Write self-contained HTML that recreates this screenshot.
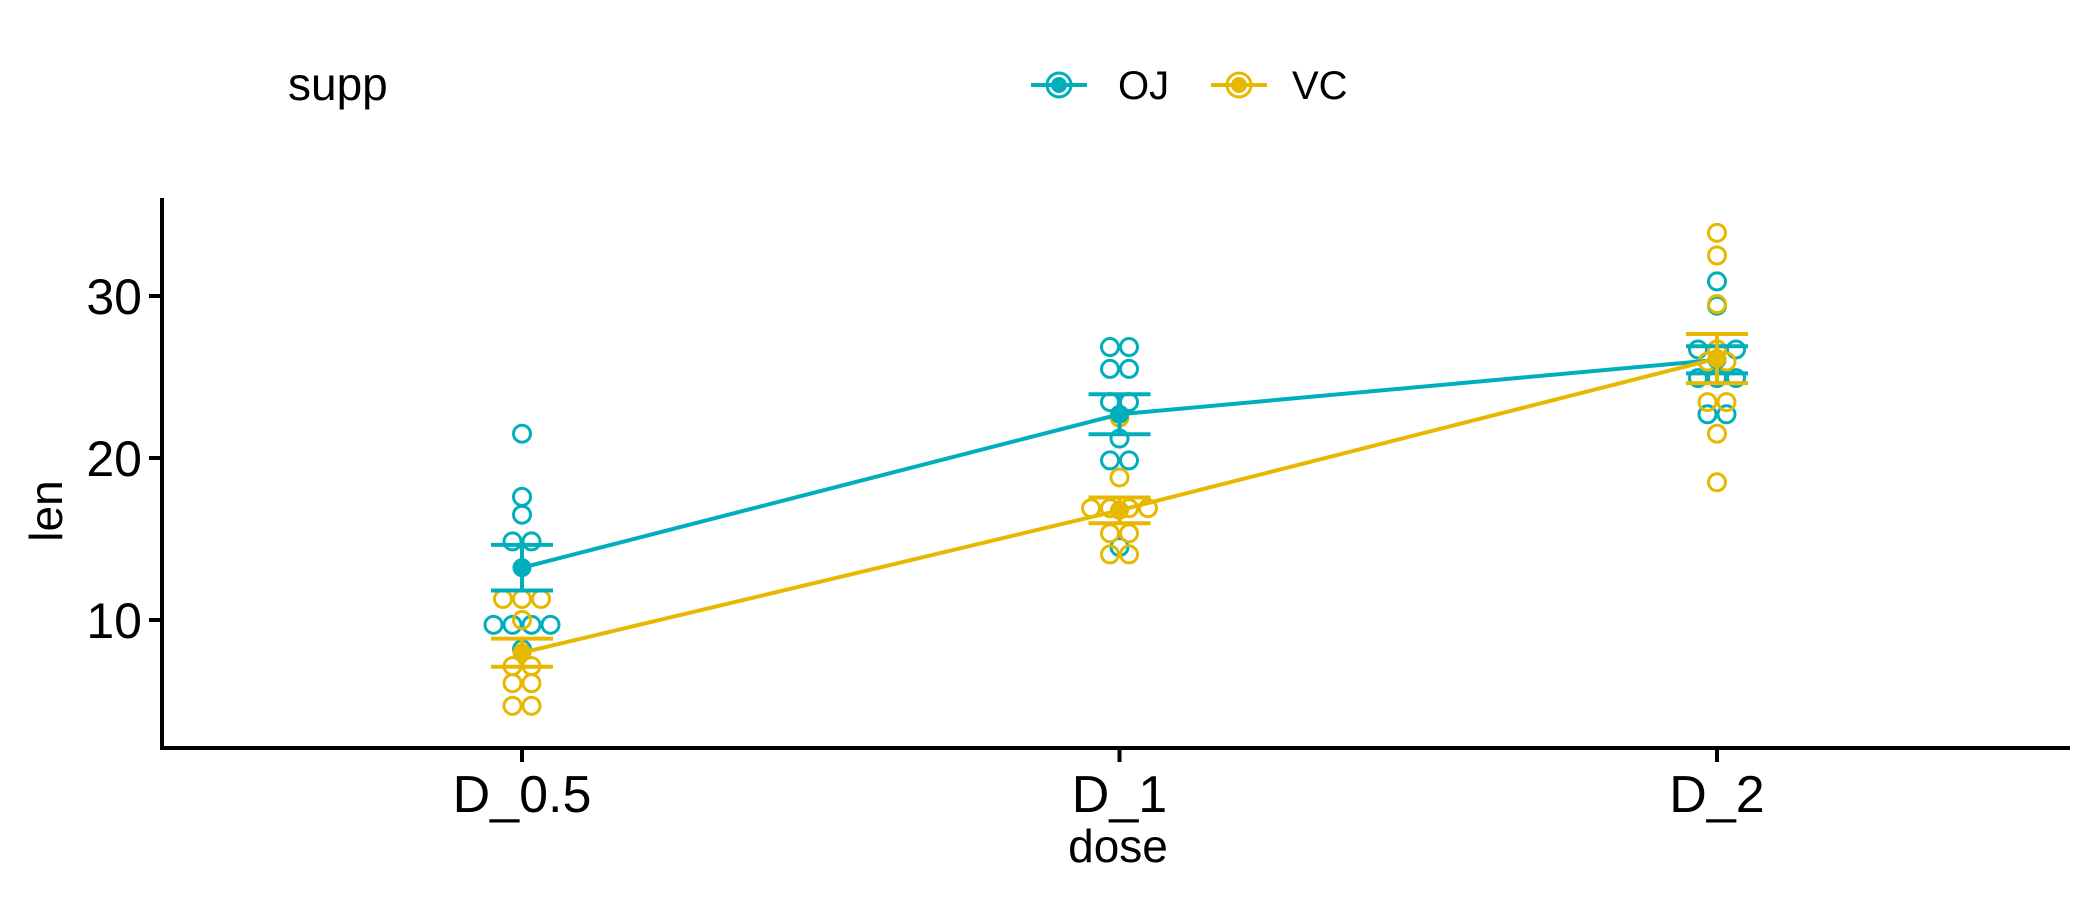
<!DOCTYPE html>
<html><head><meta charset="utf-8"><style>
body{margin:0;background:#fff}
svg{display:block;font-family:"Liberation Sans",Arial,sans-serif}
</style></head><body>
<svg id="chart" width="2100" height="900" viewBox="0 0 2100 900">
<g id="legend">
<text x="288" y="100" font-size="46">supp</text>
<g>
<line x1="1031" y1="85" x2="1087" y2="85" stroke="#00AFBB" stroke-width="4"/>
<circle cx="1059" cy="85" r="12" fill="none" stroke="#00AFBB" stroke-width="3"/>
<circle cx="1059" cy="85" r="8" fill="#00AFBB"/>
<text x="1118" y="99" font-size="40">OJ</text></g>
<g>
<line x1="1211" y1="85" x2="1267" y2="85" stroke="#E7B800" stroke-width="4"/>
<circle cx="1239" cy="85" r="12" fill="none" stroke="#E7B800" stroke-width="3"/>
<circle cx="1239" cy="85" r="8" fill="#E7B800"/>
<text x="1292" y="99" font-size="40">VC</text></g>
</g>
<g id="plot"></g>
<line x1="162" y1="198" x2="162" y2="750" stroke="#000" stroke-width="4"/>
<line x1="160" y1="748" x2="2070" y2="748" stroke="#000" stroke-width="4"/>
<text transform="translate(62,511) rotate(-90)" text-anchor="middle" font-size="46">len</text>
<text x="1118" y="862" text-anchor="middle" font-size="46">dose</text>
</svg>
<script>
const categories = ["D_0.5","D_1","D_2"];
const yTicks = [10,20,30];
const ojValues = [[15.2,21.5,17.6,9.7,14.5,10,8.2,9.4,16.5,9.7],[19.7,23.3,23.6,26.4,20,25.2,25.8,21.2,14.5,27.3],[25.5,26.4,22.4,24.5,24.8,30.9,26.4,27.3,29.4,23]];
const vcValues = [[4.2,11.5,7.3,5.8,6.4,10,11.2,11.2,5.2,7],[16.5,16.5,15.2,17.3,22.5,17.3,13.6,14.5,18.8,15.5],[23.6,18.5,33.9,25.5,26.4,32.5,26.7,21.5,23.3,29.5]];
const NS="http://www.w3.org/2000/svg";
const svg=document.getElementById('chart'), plot=document.getElementById('plot');
const xScale=i=>522+i*597.5;
const yScale=v=>782-v*16.2;
function mk(t,a,p){const e=document.createElementNS(NS,t);for(const k in a)e.setAttribute(k,a[k]);(p||plot).appendChild(e);return e;}
yTicks.forEach(t=>{
 const l=mk('line',{x1:149,x2:162,y1:yScale(t),y2:yScale(t),stroke:'#000','stroke-width':4},svg);
 
 
 const tx=mk('text',{x:142,y:yScale(t)+18,'text-anchor':'end','font-size':50},svg);tx.textContent=t;
 
 
});
categories.forEach((c,i)=>{
 const l=mk('line',{x1:xScale(i),x2:xScale(i),y1:748,y2:762,stroke:'#000','stroke-width':4},svg);
 
 
 const tx=mk('text',{x:xScale(i),y:812,'text-anchor':'middle','font-size':52},svg);tx.textContent=c;
 
 
});
const mean=a=>a.reduce((s,v)=>s+v,0)/a.length;
const se=a=>{const m=mean(a);return Math.sqrt(a.reduce((s,v)=>s+(v-m)*(v-m),0)/(a.length-1)/a.length);};
function dots(vals,col,name){
 vals.forEach((arr,i)=>{
  const s=arr.slice().sort((a,b)=>a-b);const bins=[];
  s.forEach(v=>{const b=bins[bins.length-1];if(b&&v-b[0]<1.1)b.push(v);else bins.push([v]);});
  bins.forEach(b=>{const c=mean(b);b.forEach((v,k)=>{
   const d=mk('circle',{cx:xScale(i)+(k-(b.length-1)/2)*19,cy:yScale(c),r:8.5,fill:'none',stroke:col,'stroke-width':3});
   
   
  });});
 });
}
function summary(vals,col,name){
 const pts=vals.map((a,i)=>xScale(i)+','+yScale(mean(a))).join(' ');
 const pl=mk('polyline',{points:pts,fill:'none',stroke:col,'stroke-width':4});
 
 
 vals.forEach((a,i)=>{
  const m=mean(a),e=se(a),x=xScale(i);
  const g=mk('g',{});
  
  
  mk('line',{x1:x,x2:x,y1:yScale(m-e),y2:yScale(m+e),stroke:col,'stroke-width':4},g);
  mk('line',{x1:x-31,x2:x+31,y1:yScale(m-e),y2:yScale(m-e),stroke:col,'stroke-width':4},g);
  mk('line',{x1:x-31,x2:x+31,y1:yScale(m+e),y2:yScale(m+e),stroke:col,'stroke-width':4},g);
  const p=mk('circle',{cx:x,cy:yScale(m),r:9.5,fill:col});
  
  
 });
}
dots(ojValues,'#00AFBB','oj');
dots(vcValues,'#E7B800','vc');
summary(ojValues,'#00AFBB','oj');
summary(vcValues,'#E7B800','vc');
</script>
</body></html>
